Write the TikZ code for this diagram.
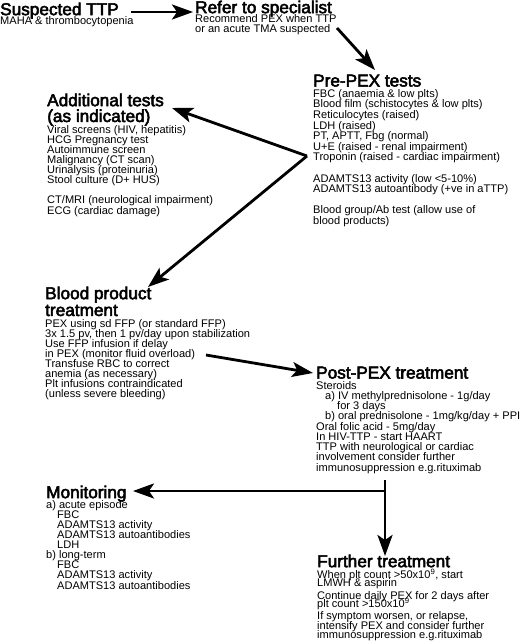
\documentclass[tikz,border=0pt]{standalone}
\usepackage{fontspec}
\setmainfont{Liberation Sans}
\newfontfamily\ttlfont[FakeBold=3]{Liberation Sans}
\usetikzlibrary{arrows.meta}
\begin{document}
\lineskiplimit=-50pt\relax
\begin{tikzpicture}[x=1pt,y=-1pt,
  ttl/.style={font=\ttlfont\fontsize{17.2}{15.8}\selectfont, align=left, inner sep=0pt, anchor=north west},
  bdy/.style={font=\fontsize{11.05}{10.1}\selectfont, align=left, inner sep=0pt, anchor=north west},
  arr/.style={line width=2.8pt, -{Stealth[length=21pt,width=15pt,inset=5pt]}},
  ln/.style={line width=2.8pt}]
\fill[white] (0,0) rectangle (520,642);
\useasboundingbox (0,0) rectangle (520,642);

% Suspected TTP
\node[ttl] (t1) at (0,2.5) {Suspected TTP};
\node[bdy] (b1) at (0,16) {MAHA \& thrombocytopenia};
% Refer
\node[ttl] (t2) at (195,0.5) {Refer to specialist};
\node[bdy] (b2) at (195,14) {Recommend PEX when TTP\\or an acute TMA suspected};
% Pre-PEX
\node[ttl] (t3) at (313,74.5) {Pre-PEX tests};
\node[bdy, font=\fontsize{11.05}{10.6}\selectfont] (b3) at (313,89) {FBC (anaemia \& low plts)\\
Blood film (schistocytes \& low plts)\\
Reticulocytes (raised)\\
LDH (raised)\\
PT, APTT, Fbg (normal)\\
U+E (raised - renal impairment)\\
Troponin (raised - cardiac impairment)\\[10.6pt]
ADAMTS13 activity (low <5-10\%)\\
ADAMTS13 autoantibody (+ve in aTTP)\\[10.6pt]
Blood group/Ab test (allow use of\\
blood products)};
% Additional
\node[ttl] (t4) at (47,93.5) {Additional tests\\(as indicated)};
\node[bdy] (b4) at (47,125) {Viral screens (HIV, hepatitis)\\
HCG Pregnancy test\\
Autoimmune screen\\
Malignancy (CT scan)\\
Urinalysis (proteinuria)\\
Stool culture (D+ HUS)\\[10.1pt]
CT/MRI (neurological impairment)\\
ECG (cardiac damage)};
% Blood product
\node[ttl, font=\ttlfont\fontsize{17.2}{16.8}\selectfont] (t5) at (45,286.5) {Blood product\\treatment};
\node[bdy] (b5) at (45,319) {PEX using sd FFP (or standard FFP)\\
3x 1.5 pv, then 1 pv/day upon stabilization\\
Use FFP infusion if delay\\
in PEX (monitor fluid overload)\\
Transfuse RBC to correct\\
anemia (as necessary)\\
Plt infusions contraindicated\\
(unless severe bleeding)};
% Post-PEX
\node[ttl] (t6) at (316,366.5) {Post-PEX treatment};
\node[bdy, font=\fontsize{11.05}{10.25}\selectfont] (b6) at (316,381) {Steroids\\
\hspace*{9pt}a) IV methylprednisolone - 1g/day\\
\hspace*{21pt}for 3 days\\
\hspace*{9pt}b) oral prednisolone - 1mg/kg/day + PPI\\
Oral folic acid - 5mg/day\\
In HIV-TTP - start HAART\\
TTP with neurological or cardiac\\
involvement consider further\\
immunosuppression e.g.rituximab};
% Monitoring
\node[ttl] (t7) at (46,485.5) {Monitoring};
\node[bdy] (b7) at (46,500) {a) acute episode\\
\hspace*{11pt}FBC\\
\hspace*{11pt}ADAMTS13 activity\\
\hspace*{11pt}ADAMTS13 autoantibodies\\
\hspace*{11pt}LDH\\
b) long-term\\
\hspace*{11pt}FBC\\
\hspace*{11pt}ADAMTS13 activity\\
\hspace*{11pt}ADAMTS13 autoantibodies};
% Further
\node[ttl] (t8) at (317,554.5) {Further treatment};
\node[bdy, font=\fontsize{11.05}{10}\selectfont] (b8) at (317,570) {When plt count >50x10\smash{\textsuperscript{9}}, start\\[-1.5pt]
LMWH \& aspirin\\[2.5pt]
Continue daily PEX for 2 days after\\[-1.5pt]
plt count >150x10\smash{\textsuperscript{9}}\\[1.5pt]
If symptom worsen, or relapse,\\
intensify PEX and consider further\\[-0.5pt]
immunosuppression e.g.rituximab};

% connector coordinates
\coordinate (a1s) at (131,12);
\coordinate (a1e) at (193,12);
\coordinate (a2s) at (337,28);
\coordinate (a2e) at (375,70);
\coordinate (v) at (307,156);
\coordinate (a3e) at (172,108);
\coordinate (a4e) at (148,287);
\coordinate (a5s) at (206,355);
\coordinate (a5e) at (313,373);
\coordinate (ts) at (385,480);
\coordinate (tj) at (385,491);
\coordinate (te) at (385,556);
\coordinate (tm) at (133,491);

\draw[arr] (a1s) -- (a1e);
\draw[arr] (a2s) -- (a2e);
\draw[arr] (v) -- (a3e);
\draw[arr] (v) -- (a4e);
\draw[arr] (a5s) -- (a5e);
\draw[arr] (ts) -- (te);
\draw[arr] (tj) -- (tm);
\end{tikzpicture}
\end{document}
